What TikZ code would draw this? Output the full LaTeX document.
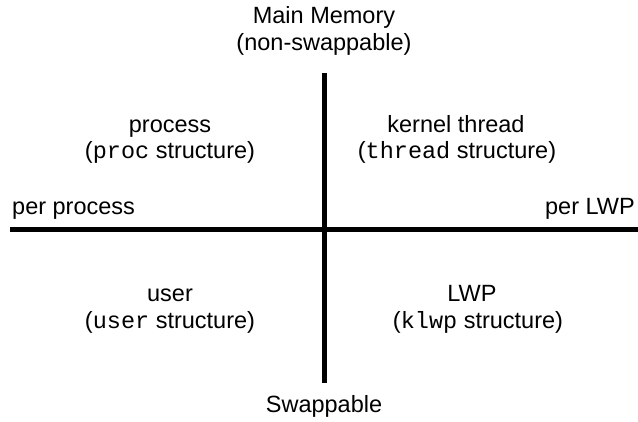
\documentclass[tikz,border=0pt]{standalone}
\usepackage{fontspec}
\setmainfont{Liberation Sans}
\setmonofont{Liberation Mono}
\begin{document}
\begin{tikzpicture}[x=1pt,y=-1pt,
  lbl/.style={font=\fontsize{23.5}{27}\selectfont, inner sep=0pt, anchor=base},
  axis/.style={line width=5pt, black}]
\useasboundingbox (0,0) rectangle (638,421);
\coordinate (hl) at (10,229.5);
\coordinate (hr) at (638,229.5);
\coordinate (vt) at (324,73);
\coordinate (vb) at (324,383);
\draw[axis] (hl) -- (hr);
\draw[axis] (vt) -- (vb);
\node[lbl] (mm1) at (324,23) {Main Memory};
\node[lbl] (mm2) at (324,50) {(non-swappable)};
\node[lbl] (p1) at (170,132) {process};
\node[lbl] (p2) at (170,158) {(\texttt{proc} structure)};
\node[lbl] (k1) at (456,132) {kernel thread};
\node[lbl] (k2) at (457,158) {(\texttt{thread} structure)};
\node[lbl,anchor=base west] (pp) at (12,214) {per process};
\node[lbl,anchor=base east] (pl) at (635,214) {per LWP};
\node[lbl] (u1) at (170,301) {user};
\node[lbl] (u2) at (170,328) {(\texttt{user} structure)};
\node[lbl] (l1) at (472,301) {LWP};
\node[lbl] (l2) at (478,328) {(\texttt{klwp} structure)};
\node[lbl] (sw) at (324,412) {Swappable};
\end{tikzpicture}
\end{document}
